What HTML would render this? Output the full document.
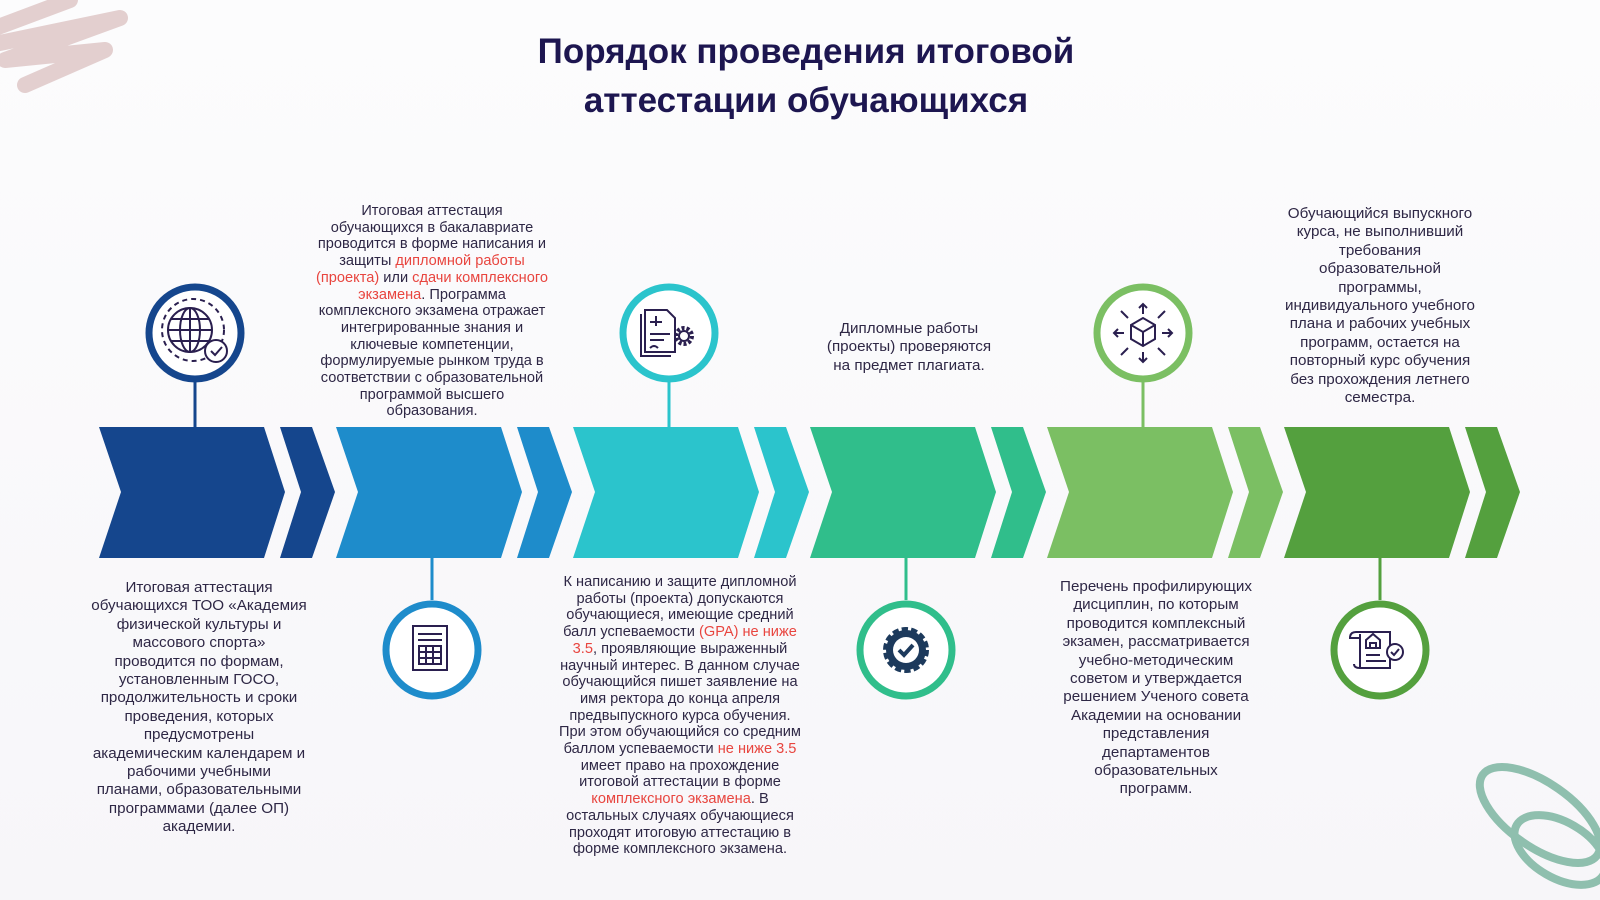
<!DOCTYPE html>
<html><head><meta charset="utf-8"><style>
html,body{margin:0;padding:0}
body{width:1600px;height:900px;position:relative;overflow:hidden;background:linear-gradient(180deg,#fcfcfd 0%,#f7f6f9 100%);font-family:"Liberation Sans","DejaVu Sans",sans-serif;color:#2b2440}
.t{position:absolute;text-align:center;font-size:14.6px;line-height:16.7px;white-space:nowrap;transform:translateX(-50%);color:#2e2745}
.b{font-size:15.2px;line-height:18.4px}
.r{color:#e8453f}
h1{position:absolute;left:0;width:1612px;top:27px;margin:0;text-align:center;font-size:35px;line-height:49px;color:#1d1650;font-weight:bold}
svg{position:absolute;left:0;top:0}
</style></head><body>
<svg width="1600" height="900" viewBox="0 0 1600 900">
<path d="M-10 30 L70 0 M-10 45 L120 18 L5 60 L105 50 L25 85" stroke="#e3cfcf" stroke-width="16" fill="none" stroke-linecap="round" stroke-linejoin="round"/>
<ellipse cx="1540" cy="815" rx="70" ry="32" transform="rotate(35 1540 815)" fill="none" stroke="#8fbfae" stroke-width="8"/>
<ellipse cx="1560" cy="850" rx="50" ry="28" transform="rotate(30 1560 850)" fill="none" stroke="#8fbfae" stroke-width="8"/>
</svg>
<h1>Порядок проведения итоговой<br>аттестации обучающихся</h1>
<svg width="1600" height="900" viewBox="0 0 1600 900">
<g>
<path d="M99 427 L264 427 L285 492 L264 558 L99 558 L121 492Z M280 427 L312 427 L335 492 L312 558 L280 558 L301 492Z" fill="#15468d"/>
<path d="M336 427 L501 427 L522 492 L501 558 L336 558 L358 492Z M517 427 L549 427 L572 492 L549 558 L517 558 L538 492Z" fill="#1e8ccb"/>
<path d="M573 427 L738 427 L759 492 L738 558 L573 558 L595 492Z M754 427 L786 427 L809 492 L786 558 L754 558 L775 492Z" fill="#2bc4cc"/>
<path d="M810 427 L975 427 L996 492 L975 558 L810 558 L832 492Z M991 427 L1023 427 L1046 492 L1023 558 L991 558 L1012 492Z" fill="#30be8b"/>
<path d="M1047 427 L1212 427 L1233 492 L1212 558 L1047 558 L1069 492Z M1228 427 L1260 427 L1283 492 L1260 558 L1228 558 L1249 492Z" fill="#7bbf63"/>
<path d="M1284 427 L1449 427 L1470 492 L1449 558 L1284 558 L1306 492Z M1465 427 L1497 427 L1520 492 L1497 558 L1465 558 L1486 492Z" fill="#54a03e"/>
</g>
<g stroke-width="3">
<line x1="195" y1="380" x2="195" y2="427" stroke="#15468d"/>
<line x1="432" y1="558" x2="432" y2="600" stroke="#1e8ccb"/>
<line x1="669" y1="380" x2="669" y2="427" stroke="#2bc4cc"/>
<line x1="906" y1="558" x2="906" y2="600" stroke="#30be8b"/>
<line x1="1143" y1="380" x2="1143" y2="427" stroke="#7bbf63"/>
<line x1="1380" y1="558" x2="1380" y2="600" stroke="#54a03e"/>
</g>
<g fill="#fff" stroke-width="7">
<circle cx="195" cy="333" r="46" stroke="#15468d"/>
<circle cx="432" cy="650" r="46" stroke="#1e8ccb"/>
<circle cx="669" cy="333" r="46" stroke="#2bc4cc"/>
<circle cx="906" cy="650" r="46" stroke="#30be8b"/>
<circle cx="1143" cy="333" r="46" stroke="#7bbf63"/>
<circle cx="1380" cy="650" r="46" stroke="#54a03e"/>
</g>
<g fill="none" stroke="#2a1f4f" stroke-width="2">
<circle cx="190" cy="330" r="22"/><ellipse cx="190" cy="330" rx="10" ry="22"/>
<line x1="168" y1="330" x2="212" y2="330"/><line x1="190" y1="308" x2="190" y2="352"/>
<line x1="171" y1="319" x2="209" y2="319"/><line x1="171" y1="341" x2="209" y2="341"/>
<circle cx="193" cy="330" r="31" stroke-dasharray="5 4"/>
<circle cx="216" cy="351" r="11" fill="#fff"/><path d="M211 351 l4 4 l7 -8"/>
<rect x="413" y="626" width="34" height="44"/><path d="M418 634 h24 M418 640 h24"/>
<rect x="419" y="646" width="22" height="18"/><path d="M419 652 h22 M419 658 h22 M426 646 v18 M433 646 v18"/>
<path d="M645 310 h22 l8 8 v34 h-30 z"/><path d="M641 314 v42 h30"/>
<path d="M650 322 h12 M656 316 v10 M650 334 h20 M650 340 h14 M650 348 q4 -4 8 0"/>
<circle cx="684" cy="336" r="8" fill="#fff" stroke-dasharray="3 2" stroke-width="4"/><circle cx="684" cy="336" r="5"/>
<circle cx="906" cy="650" r="20" fill="#1d3a5c" stroke="#1d3a5c" stroke-width="6" stroke-dasharray="6 3"/>
<circle cx="906" cy="650" r="13" fill="#fff" stroke="none"/>
<path d="M899 650 l5 5 l9 -10" stroke="#1d3a5c" stroke-width="4"/>
<path d="M1131 325 l12 -7 l12 7 v14 l-12 7 l-12 -7z M1131 325 l12 7 l12 -7 M1143 332 v14"/>
<path d="M1143 314 v-10 m-4 4 l4 -4 l4 4 M1143 352 v10 m-4 -4 l4 4 l4 -4 M1124 333 h-10 m4 -4 l-4 4 l4 4 M1162 333 h10 m-4 -4 l4 4 l-4 4 M1128 318 l-7 -7 M1158 318 l7 -7 M1128 348 l-7 7 M1158 348 l7 7"/>
<path d="M1356 632 h34 v36 h-30 M1356 632 q-6 0 -6 6 h10 M1360 634 v34 q-6 0 -6 -4"/>
<path d="M1366 640 l7 -6 l7 6 v8 h-14z M1370 648 v-5 h6 v5 M1366 655 h14 M1366 661 h20"/>
<circle cx="1395" cy="652" r="8" fill="#fff"/><path d="M1391 652 l3 3 l5 -6"/>
</g>
</svg>

<div class="t" style="left:432px;top:203px">Итоговая аттестация<br>обучающихся в бакалавриате<br>проводится в форме написания и<br>защиты <span class="r">дипломной работы</span><br><span class="r">(проекта)</span> или <span class="r">сдачи комплексного</span><br><span class="r">экзамена</span>. Программа<br>комплексного экзамена отражает<br>интегрированные знания и<br>ключевые компетенции,<br>формулируемые рынком труда в<br>соответствии с образовательной<br>программой высшего<br>образования.</div>

<div class="t b" style="left:909px;top:320px">Дипломные работы<br>(проекты) проверяются<br>на предмет плагиата.</div>

<div class="t b" style="left:1380px;top:205px">Обучающийся выпускного<br>курса, не выполнивший<br>требования<br>образовательной<br>программы,<br>индивидуального учебного<br>плана и рабочих учебных<br>программ, остается на<br>повторный курс обучения<br>без прохождения летнего<br>семестра.</div>

<div class="t b" style="left:199px;top:579px">Итоговая аттестация<br>обучающихся ТОО «Академия<br>физической культуры и<br>массового спорта»<br>проводится по формам,<br>установленным ГОСО,<br>продолжительность и сроки<br>проведения, которых<br>предусмотрены<br>академическим календарем и<br>рабочими учебными<br>планами, образовательными<br>программами (далее ОП)<br>академии.</div>

<div class="t" style="left:680px;top:574px">К написанию и защите дипломной<br>работы (проекта) допускаются<br>обучающиеся, имеющие средний<br>балл успеваемости <span class="r">(GPA) не ниже</span><br><span class="r">3.5</span>, проявляющие выраженный<br>научный интерес. В данном случае<br>обучающийся пишет заявление на<br>имя ректора до конца апреля<br>предвыпускного курса обучения.<br>При этом обучающийся со средним<br>баллом успеваемости <span class="r">не ниже 3.5</span><br>имеет право на прохождение<br>итоговой аттестации в форме<br><span class="r">комплексного экзамена</span>. В<br>остальных случаях обучающиеся<br>проходят итоговую аттестацию в<br>форме комплексного экзамена.</div>

<div class="t b" style="left:1156px;top:578px">Перечень профилирующих<br>дисциплин, по которым<br>проводится комплексный<br>экзамен, рассматривается<br>учебно-методическим<br>советом и утверждается<br>решением Ученого совета<br>Академии на основании<br>представления<br>департаментов<br>образовательных<br>программ.</div>
</body></html>
